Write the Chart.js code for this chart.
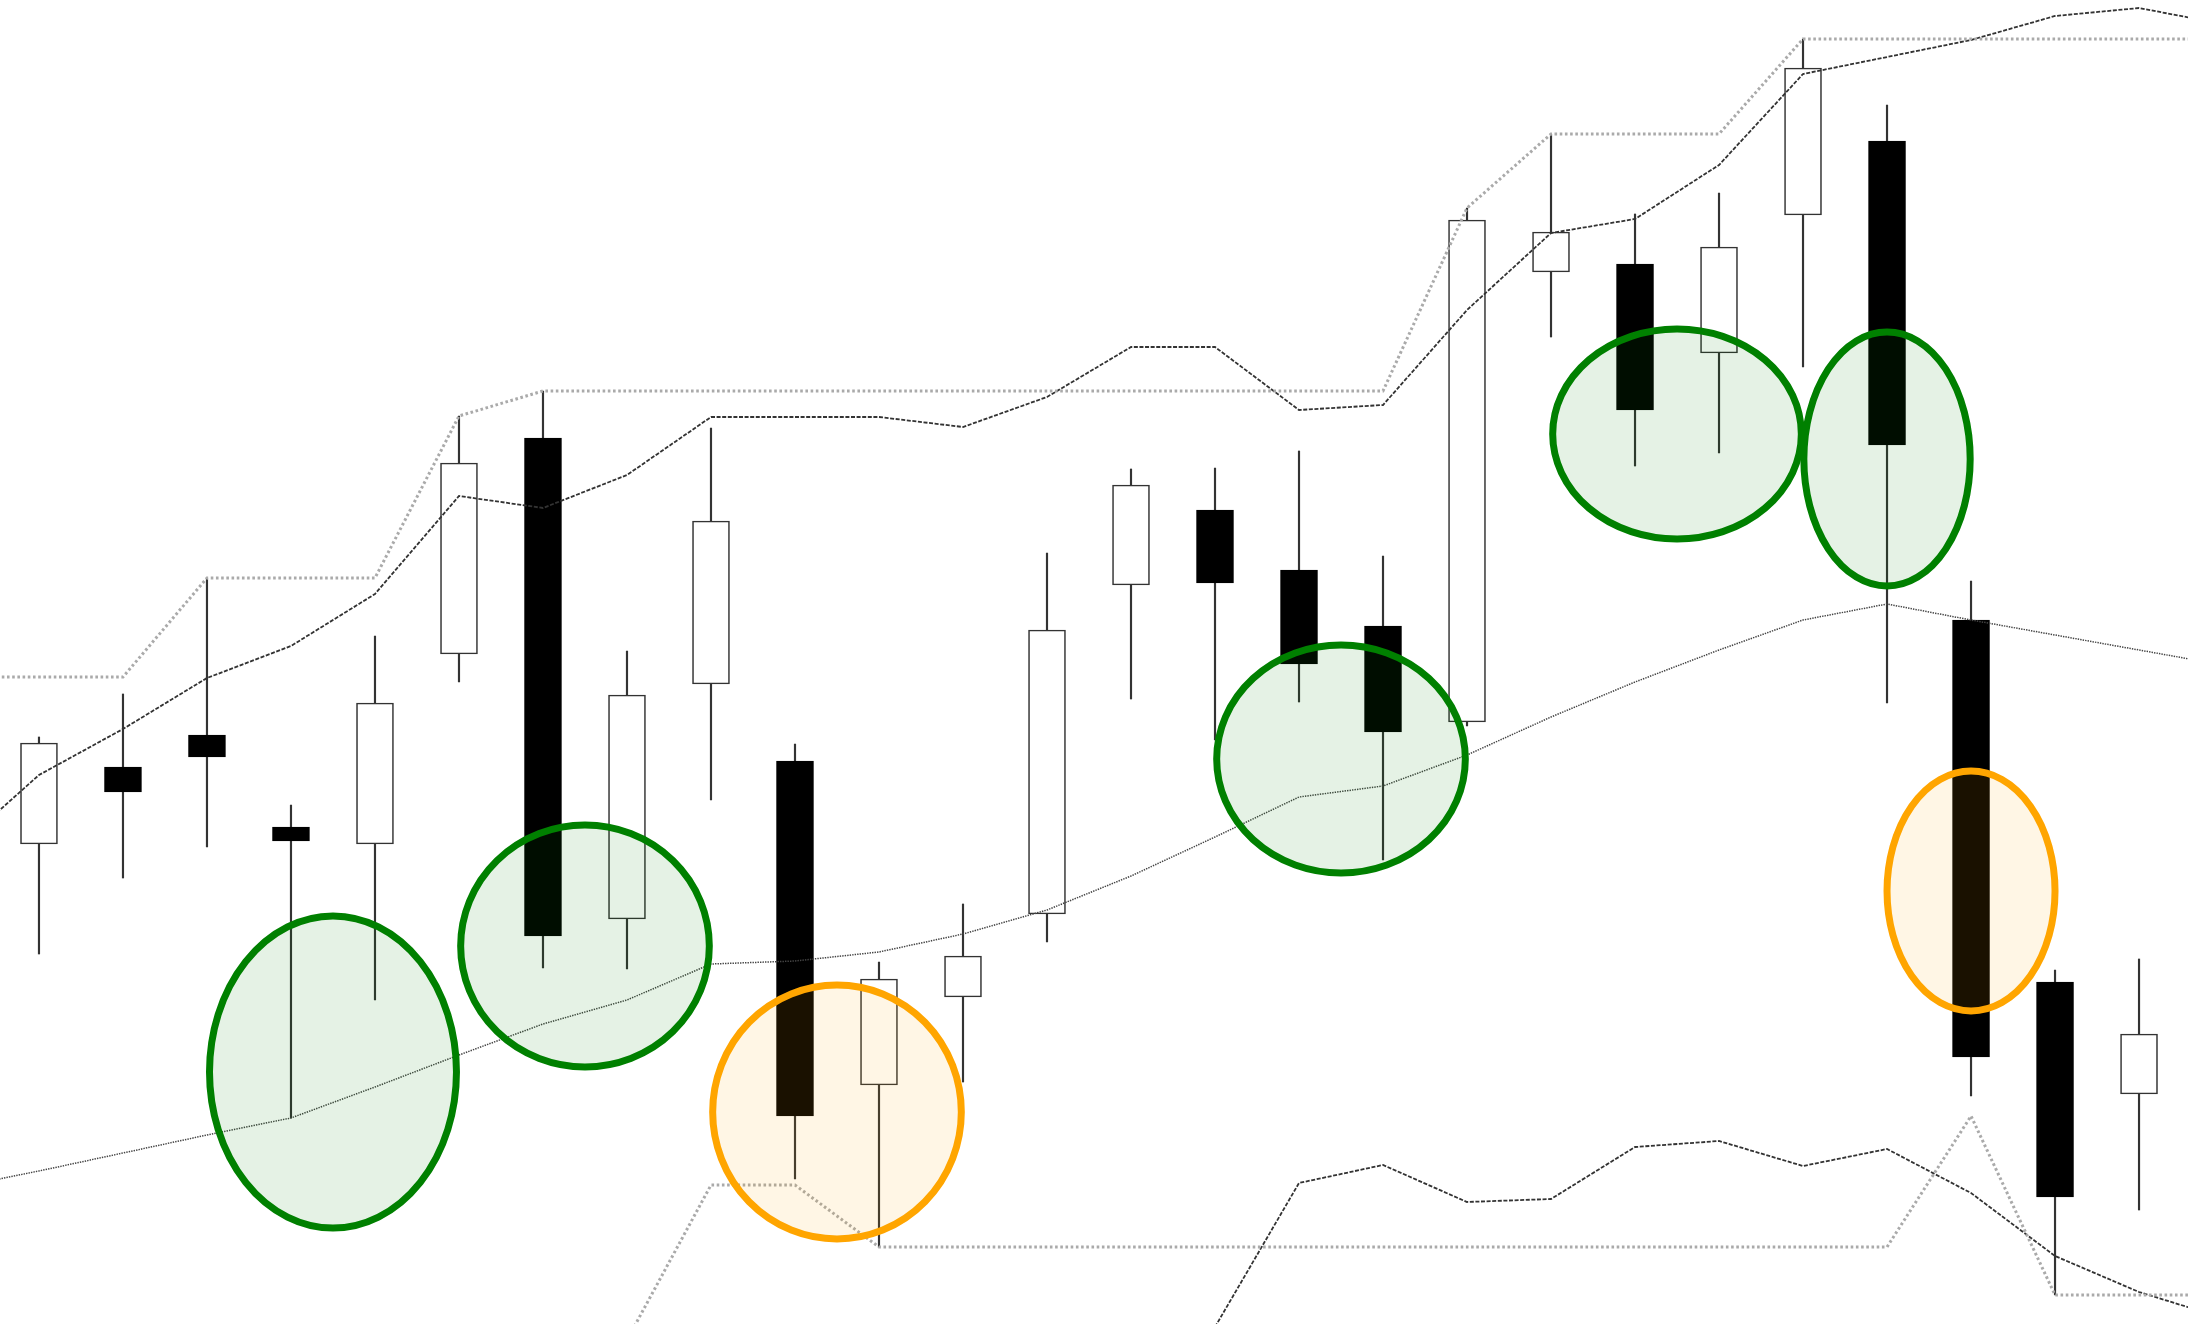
<!DOCTYPE html>
<html>
<head>
<meta charset="utf-8">
<script src="https://cdn.jsdelivr.net/npm/chart.js@4.4.1/dist/chart.umd.min.js"></script>
<style>
	body { margin: 0; background: #fff; }
	canvas { display: block; }
</style>
</head>
<body>
<canvas id="myChart" width="2188" height="1324"></canvas>
<script>
//candles
let openPrice = [48.0, 55.7, 58.9, 49.7, 48.0, 67.0, 88.6, 40.5, 64.0, 56.3, 23.9, 32.7, 41.0, 73.9, 81.4, 75.4, 69.8, 60.2, 105.2, 106.0, 97.1, 110.9, 118.3, 70.4, 34.2, 23.0]
let highPrice = [58.7, 63.0, 74.6, 51.9, 68.8, 90.8, 93.3, 67.3, 89.6, 58.0, 36.2, 42.0, 77.1, 85.5, 85.6, 87.3, 76.8, 111.6, 119.0, 111.0, 113.1, 128.5, 121.9, 74.3, 35.4, 36.5]
let lowPrice = [37.0, 44.6, 47.7, 20.6, 32.4, 64.2, 35.6, 35.5, 52.4, 14.5, 7.7, 24.2, 38.2, 62.5, 58.4, 62.2, 46.4, 59.8, 98.7, 85.8, 87.1, 95.7, 62.1, 22.8, 2.9, 11.4]
let closePrice = [58.1, 53.2, 56.7, 48.3, 62.1, 86.1, 38.8, 62.9, 80.3, 20.8, 34.5, 36.8, 69.4, 83.9, 74.1, 66.0, 59.2, 110.4, 109.2, 91.4, 107.7, 125.6, 87.9, 26.7, 12.7, 29.0]

//overlays, one value per bar from -1 to 26
let lineIndex = [-1, 0, 1, 2, 3, 4, 5, 6, 7, 8, 9, 10, 11, 12, 13, 14, 15, 16, 17, 18, 19, 20, 21, 22, 23, 24, 25, 26]
let upperChannel = [64.7, 64.7, 64.7, 74.6, 74.6, 74.6, 90.8, 93.3, 93.3, 93.3, 93.3, 93.3, 93.3, 93.3, 93.3, 93.3, 93.3, 93.3, 111.6, 119.0, 119.0, 119.0, 128.5, 128.5, 128.5, 128.5, 128.5, 128.5]
let lowerChannel = [null, null, null, null, null, null, null, null, -1.6, 13.9, 13.9, 7.7, 7.7, 7.7, 7.7, 7.7, 7.7, 7.7, 7.7, 7.7, 7.7, 7.7, 7.7, 7.7, 20.8, 2.9, 2.9, 2.9]
let upperBand = [47.4, 54.9, 59.5, 64.6, 67.8, 73.0, 82.8, 81.6, 84.9, 90.7, 90.7, 90.7, 89.7, 92.7, 97.7, 97.7, 91.4, 91.9, 101.4, 109.1, 110.5, 115.9, 125.0, 126.7, 128.4, 130.8, 131.6, 130.0]
let middleLine = [13.6, 15.3, 17.1, 18.9, 20.6, 23.7, 26.9, 30.0, 32.4, 36.0, 36.3, 37.2, 39.0, 41.4, 44.8, 48.7, 52.7, 53.8, 56.9, 60.7, 64.2, 67.4, 70.4, 72.0, 70.4, 68.9, 67.4, 65.9]
let lowerBand = [null, null, null, null, null, null, null, null, null, null, null, null, null, null, null, -0.3, 14.1, 15.9, 12.2, 12.5, 17.7, 18.3, 15.8, 17.5, 13.1, 6.8, 3.2, 0.6]

//highlighted zones (bar index, price, half width in bars, half height in price)
let highlights = [
	{at: 3.5, price: 25.2, spanX: 1.47, spanY: 15.6, kind: 'green'},
	{at: 6.5, price: 37.8, spanX: 1.48, spanY: 12.1, kind: 'green'},
	{at: 9.5, price: 21.2, spanX: 1.48, spanY: 12.7, kind: 'orange'},
	{at: 15.5, price: 56.5, spanX: 1.48, spanY: 11.4, kind: 'green'},
	{at: 19.5, price: 89.0, spanX: 1.48, spanY: 10.5, kind: 'green'},
	{at: 22, price: 86.5, spanX: 0.99, spanY: 12.7, kind: 'green'},
	{at: 23, price: 43.3, spanX: 1.0, spanY: 12.0, kind: 'orange'}
]

const zoneColors = {
	green: {line: 'rgb(0, 128, 0)', fill: 'rgba(0, 128, 0, 0.1)'},
	orange: {line: 'rgb(255, 165, 0)', fill: 'rgba(255, 165, 0, 0.1)'}
}

const toPoints = (arr) => lineIndex.map((x, i) => ({x: x, y: arr[i]}))

const bodies = openPrice.map((o, i) => ({x: i, y: [o, closePrice[i]]}))
const wicks = lowPrice.map((l, i) => ({x: i, y: [l, highPrice[i]]}))
const isUp = openPrice.map((o, i) => closePrice[i] >= o)

const lineStyle = (arr, color, width, dash) => ({
	type: 'line',
	data: toPoints(arr),
	borderColor: color,
	borderWidth: width,
	borderDash: dash,
	pointRadius: 0,
	tension: 0,
	fill: false,
	spanGaps: false,
	order: 0
})

const zonePlugin = {
	id: 'zones',
	afterDatasetsDraw(chart) {
		let ctx = chart.ctx
		let xs = chart.scales.x
		let ys = chart.scales.y
		highlights.forEach(z => {
			let cx = xs.getPixelForValue(z.at)
			let cy = ys.getPixelForValue(z.price)
			let rx = Math.abs(xs.getPixelForValue(z.at + z.spanX) - cx)
			let ry = Math.abs(ys.getPixelForValue(z.price + z.spanY) - cy)
			ctx.save()
			ctx.beginPath()
			ctx.ellipse(cx, cy, rx, ry, 0, 0, Math.PI * 2)
			ctx.fillStyle = zoneColors[z.kind].fill
			ctx.fill()
			ctx.lineWidth = 7
			ctx.strokeStyle = zoneColors[z.kind].line
			ctx.stroke()
			ctx.restore()
		})
	}
}

let ctx = document.getElementById('myChart').getContext('2d')

let myChart = new Chart(ctx, {
	type: 'bar',
	data: {
		datasets: [
			lineStyle(upperChannel, '#aaa', 3, [2.6, 2.6]),
			lineStyle(lowerChannel, '#aaa', 3, [2.6, 2.6]),
			lineStyle(upperBand, '#333', 1.8, [4, 1.6]),
			lineStyle(lowerBand, '#333', 1.8, [4, 1.6]),
			lineStyle(middleLine, '#444', 1.5, [1.4, 1.1]),
			{
				type: 'bar',
				data: bodies,
				backgroundColor: isUp.map(u => u ? '#fff' : '#000'),
				borderColor: isUp.map(u => u ? '#333' : '#000'),
				borderWidth: 1.6,
				borderSkipped: false,
				barThickness: 37,
				grouped: false,
				order: 1
			},
			{
				type: 'bar',
				data: wicks,
				backgroundColor: '#333',
				borderWidth: 0,
				barThickness: 1.5,
				grouped: false,
				order: 2
			}
		]
	},
	options: {
		responsive: false,
		animation: false,
		devicePixelRatio: 1,
		layout: {padding: 0},
		plugins: {
			legend: {display: false},
			tooltip: {enabled: false},
			title: {display: false}
		},
		scales: {
			x: {type: 'linear', min: -0.464, max: 25.583, offset: false, display: false},
			y: {type: 'linear', min: 0, max: 132.4, display: false}
		}
	},
	plugins: [zonePlugin]
})
</script>
</body>
</html>
